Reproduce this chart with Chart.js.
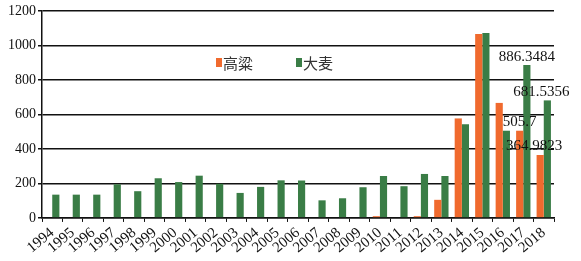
<!DOCTYPE html>
<html>
<head>
<meta charset="utf-8">
<script src="https://cdn.jsdelivr.net/npm/chart.js@4"></script>
<style>
  html, body { margin: 0; padding: 0; background: #fff; }
  #wrap { width: 581px; height: 261px; }
</style>
</head>
<body>
<div id="wrap"><canvas id="chart"></canvas></div>
<script>
// Data
const years = ['1994', '1995', '1996', '1997', '1998', '1999', '2000', '2001', '2002', '2003',
    '2004', '2005', '2006', '2007', '2008', '2009', '2010', '2011', '2012', '2013',
    '2014', '2015', '2016', '2017', '2018'];
const sorghum = [0, 0, 0, 0, 0, 0, 0, 0, 0, 0,
    0, 0, 0, 0, 0, 0, 10, 0, 10, 105,
    577, 1066, 667, 505.7, 364.9823];
const barley = [135, 135, 135, 195, 155, 230, 208, 245, 198, 145,
    180, 218, 217, 102, 114, 178, 243, 184, 255, 243,
    543, 1072, 505.7, 886.3484, 681.5356];
// value labels shown on the chart: [series index, category index, text]
const valueLabels = [
    [1, 23, '886.3484'],
    [1, 24, '681.5356'],
    [0, 23, '505.7'],
    [0, 24, '364.9823']
];
const yTicks = [0, 200, 400, 600, 800, 1000, 1200];

const orange = '#f06a2e';
const green = '#3a7d46';
const serif = "'Liberation Serif', 'DejaVu Serif', serif";

const labelPlugin = {
    id: 'valueLabels',
    afterDatasetsDraw(chart) {
        const ctx = chart.ctx;
        ctx.save();
        ctx.font = '15px ' + serif;
        ctx.fillStyle = '#111';
        ctx.textAlign = 'center';
        ctx.textBaseline = 'bottom';
        valueLabels.forEach(([ds, i, text]) => {
            const bar = chart.getDatasetMeta(ds).data[i];
            ctx.fillText(text, bar.x - (i === 24 ? 6 : 0), bar.y - 1);
        });
        ctx.restore();
    }
};

const legendPlugin = {
    id: 'innerLegend',
    afterDraw(chart) {
        const ctx = chart.ctx;
        ctx.save();
        ctx.font = "15px 'Noto Sans CJK SC'";
        ctx.textBaseline = 'middle';
        ctx.textAlign = 'left';
        [[216, orange, '高粱'], [296, green, '大麦']].forEach(([x, color, text]) => {
            ctx.fillStyle = color;
            ctx.fillRect(x, 58, 6, 9);
            ctx.fillStyle = '#333';
            ctx.fillText(text, x + 7, 63);
        });
        ctx.restore();
    }
};

const ctx = document.getElementById('chart').getContext('2d');
new Chart(ctx, {
    type: 'bar',
    data: {
        labels: years,
        datasets: [
            { label: '高粱', data: sorghum, backgroundColor: orange },
            { label: '大麦', data: barley, backgroundColor: green }
        ]
    },
    options: {
        responsive: true,
        maintainAspectRatio: false,
        animation: false,
        datasets: { bar: { categoryPercentage: 0.7, barPercentage: 1.0 } },
        layout: { padding: { top: 11, right: 27, left: 6, bottom: 2 } },
        plugins: {
            legend: { display: false },
            tooltip: { enabled: false }
        },
        scales: {
            x: {
                offset: true,
                grid: { offset: true, drawOnChartArea: false, color: '#111', tickLength: 4 },
                border: { color: '#111', width: 1.5 },
                ticks: {
                    font: { family: serif, size: 15 },
                    color: '#111',
                    minRotation: 40,
                    maxRotation: 40,
                    autoSkip: false,
                    padding: 2
                }
            },
            y: {
                min: 0,
                max: 1200,
                afterBuildTicks(axis) { axis.ticks = yTicks.map(v => ({ value: v })); },
                grid: { color: '#111', lineWidth: 1.5, tickLength: 4 },
                border: { color: '#111', width: 1.5 },
                ticks: {
                    font: { family: serif, size: 14 },
                    color: '#111',
                    padding: 2,
                    callback: v => String(v)
                }
            }
        }
    },
    plugins: [labelPlugin, legendPlugin]
});
</script>
</body>
</html>
